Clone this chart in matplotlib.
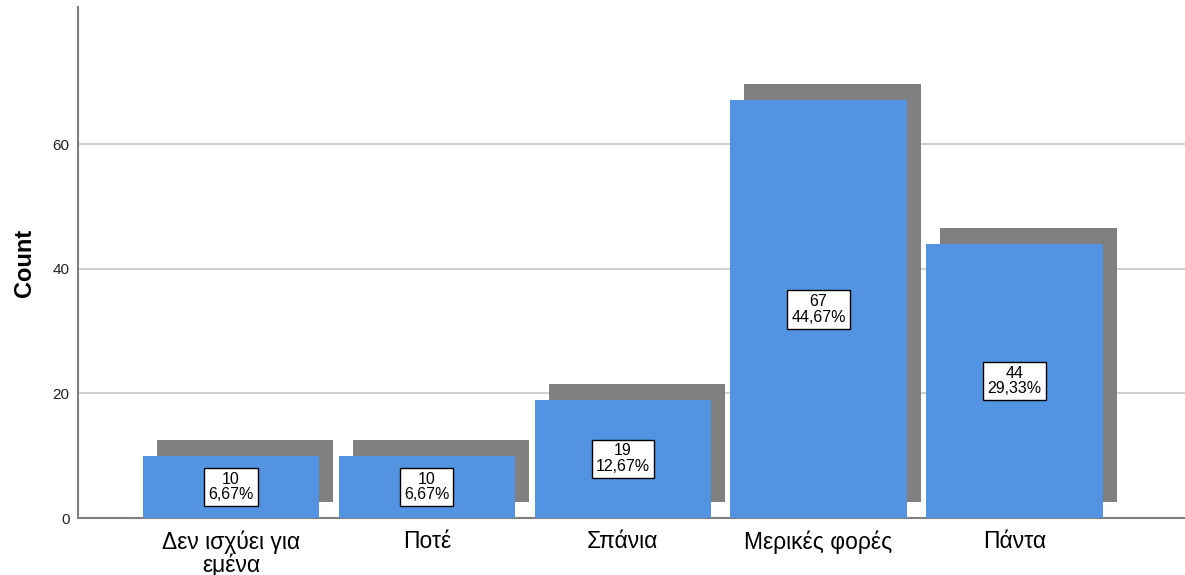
import matplotlib
matplotlib.use("Agg")
import matplotlib.pyplot as plt
from matplotlib.transforms import offset_copy

plt.rcParams['font.family'] = ['Liberation Sans', 'DejaVu Sans']

categories = ["Δεν ισχύει για\nεμένα", "Ποτέ", "Σπάνια", "Μερικές φορές", "Πάντα"]
counts = [10, 10, 19, 67, 44]
percents = ["6,67%", "6,67%", "12,67%", "44,67%", "29,33%"]

fig = plt.figure(figsize=(11.85, 5.75), dpi=100)
ax = fig.add_axes([78 / 1185, 57 / 575, 1 - 78 / 1185, (518 - 7) / 575])

x = list(range(len(categories)))
width = 0.9

# drop shadow: same bars shifted right and up
shadow = offset_copy(ax.transData, fig=fig, x=14, y=16, units='dots')
ax.bar(x, counts, width=width, color='#808080', transform=shadow, zorder=2)
ax.bar(x, counts, width=width, color='#5294E2', zorder=3)

for xi, c, p in zip(x, counts, percents):
    ax.text(xi, c / 2, f"{c}\n{p}", ha='center', va='center', fontsize=11.5,
            linespacing=1.05, zorder=4,
            bbox=dict(boxstyle='square,pad=0.25', fc='white', ec='black', lw=1))

ax.set_xlim(-0.78, 4.87)
ax.set_ylim(0, 82)
ax.set_yticks([0, 20, 40, 60])
ax.set_xticks(x)
ax.set_xticklabels(categories, fontsize=16.5, linespacing=0.95)
ax.tick_params(axis='x', length=0, pad=9)
ax.tick_params(axis='y', length=0, pad=6, labelsize=11, labelcolor='#222222')
ax.set_ylabel("Count", fontsize=17, fontweight='bold', labelpad=12)

ax.grid(axis='y', color='#c8c8c8', lw=1.2, zorder=0)
ax.set_axisbelow(True)
for s in ['top', 'right']:
    ax.spines[s].set_visible(False)
for s in ['left', 'bottom']:
    ax.spines[s].set_color('#808080')
    ax.spines[s].set_linewidth(1.5)

fig.savefig("out.png", dpi=100)
